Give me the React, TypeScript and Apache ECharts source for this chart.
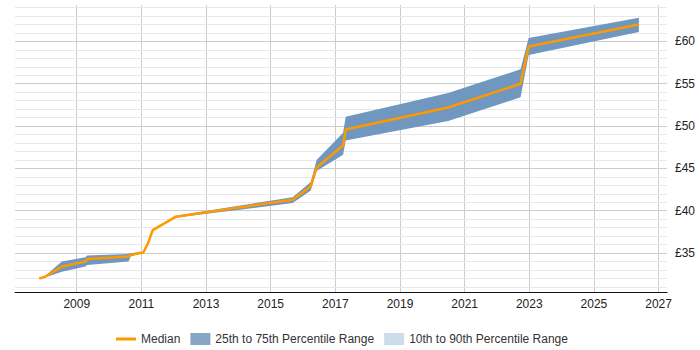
import React, { useEffect, useRef } from "react";
import * as echarts from "echarts";

// Sample dates as decimal years, with the median and inter-quartile bounds (GBP per hour)
const years = [
  2007.84, 2008.02, 2008.54, 2009.27, 2009.32, 2010.6, 2010.67, 2011.06, 2011.21, 2011.35,
  2012.07, 2015.68, 2016.24, 2016.42, 2017.24, 2017.32, 2020.49, 2022.73, 2022.98, 2026.39,
];
const median = [
  32.0, 32.2, 33.4, 34.0, 34.3, 34.6, 34.8, 35.07, 36.2, 37.7,
  39.3, 41.3, 42.9, 45.1, 47.7, 49.6, 52.2, 55.0, 59.4, 62.0,
];
const p25 = [
  32.0, 32.1, 32.8, 33.4, 33.6, 34.0, 34.6, 35.05, 36.2, 37.7,
  39.2, 40.9, 42.4, 44.7, 46.6, 48.3, 50.6, 53.4, 58.4, 61.1,
];
const p75 = [
  32.0, 32.3, 34.0, 34.5, 34.7, 34.9, 35.0, 35.1, 36.2, 37.7,
  39.4, 41.6, 43.4, 46.0, 49.2, 51.1, 53.9, 56.7, 60.4, 62.8,
];

const xTickYears = [2009, 2011, 2013, 2015, 2017, 2019, 2021, 2023, 2025, 2027];
const yLabelValues = [35, 40, 45, 50, 55, 60];
const yGridValues = Array.from({ length: 34 }, (_, i) => 31 + i);

const FONT = "'Liberation Sans', Arial, sans-serif";
const MEDIAN_COLOR = "#ff9900";
const IQR_COLOR = "#7097bf";
const IQR_LEGEND = "#87a5c5";
const DECILE_LEGEND = "#cddcec";
const GRID_MAJOR = "#cccccc";
const GRID_MINOR = "#e8e8e8";

// Short thick bar for the median legend key, padded to the 20x12 key box
const MEDIAN_ICON = "path://M0,0 M20,12 M0,4.5 L20,4.5 L20,7.5 L0,7.5 Z";

export default function App() {
  const ref = useRef<HTMLDivElement>(null);

  useEffect(() => {
    document.body.style.margin = "0";
    const chart = echarts.init(ref.current!, null, { renderer: "svg" });

    const medianData = years.map((y, i) => [y, median[i]]);
    const bandData = years.map((y, i) => [y, p25[i], p75[i]]);

    const gridLines = [
      ...xTickYears.map((v) => ({ xAxis: v, lineStyle: { color: GRID_MAJOR } })),
      ...yGridValues.map((v) => ({
        yAxis: v,
        lineStyle: { color: v % 5 === 0 ? GRID_MAJOR : GRID_MINOR },
      })),
    ];

    chart.setOption({
      animation: false,
      textStyle: { fontFamily: FONT },
      grid: { left: 15, right: 33, top: 5, bottom: 58 },
      legend: {
        left: 111,
        top: 328,
        itemWidth: 20,
        itemHeight: 12,
        itemGap: 10,
        textStyle: { fontFamily: FONT, fontSize: 12, color: "#333" },
        data: [
          { name: "Median", icon: MEDIAN_ICON, itemStyle: { color: MEDIAN_COLOR } },
          { name: "25th to 75th Percentile Range", icon: "rect", itemStyle: { color: IQR_LEGEND } },
          { name: "10th to 90th Percentile Range", icon: "rect", itemStyle: { color: DECILE_LEGEND } },
        ],
      },
      xAxis: {
        type: "value",
        min: 2007.09,
        max: 2027.26,
        axisLine: { show: true, onZero: false, lineStyle: { color: "#111", width: 1 } },
        axisTick: { show: false },
        axisLabel: {
          customValues: xTickYears,
          formatter: (v: number) => String(Math.round(v)),
          margin: 6,
          color: "#222",
          fontSize: 12,
          fontFamily: FONT,
        },
        splitLine: { show: false },
      },
      yAxis: {
        type: "value",
        position: "right",
        min: 30.4,
        max: 64.3,
        axisLine: { show: false },
        axisTick: { show: false },
        axisLabel: {
          customValues: yLabelValues,
          formatter: (v: number) => "£" + Math.round(v),
          margin: 8,
          color: "#222",
          fontSize: 12,
          fontFamily: FONT,
        },
        splitLine: { show: false },
      },
      series: [
        {
          name: "gridlines",
          type: "line",
          data: [],
          silent: true,
          z: 1,
          markLine: {
            silent: true,
            z: 1,
            symbol: ["none", "none"],
            label: { show: false },
            lineStyle: { type: "solid", width: 1 },
            data: gridLines,
          },
        },
        {
          name: "10th to 90th Percentile Range",
          type: "line",
          data: [],
          symbol: "none",
          itemStyle: { color: DECILE_LEGEND },
          lineStyle: { width: 0 },
        },
        {
          name: "25th to 75th Percentile Range",
          type: "custom",
          data: bandData,
          encode: { x: 0, y: [1, 2] },
          itemStyle: { color: IQR_COLOR },
          silent: true,
          z: 6,
          renderItem: (params: any, api: any) => {
            if (params.dataIndex !== 0) return null;
            const upper = bandData.map((d) => api.coord([d[0], d[2]]));
            const lower = bandData.map((d) => api.coord([d[0], d[1]])).reverse();
            return {
              type: "polygon",
              shape: { points: upper.concat(lower) },
              style: { fill: IQR_COLOR },
            };
          },
        },
        {
          name: "Median",
          type: "line",
          data: medianData,
          symbol: "none",
          itemStyle: { color: MEDIAN_COLOR },
          lineStyle: { color: MEDIAN_COLOR, width: 2.5 },
          z: 8,
        },
      ],
    });

    return () => chart.dispose();
  }, []);

  return <div ref={ref} style={{ width: 700, height: 350 }} />;
}
